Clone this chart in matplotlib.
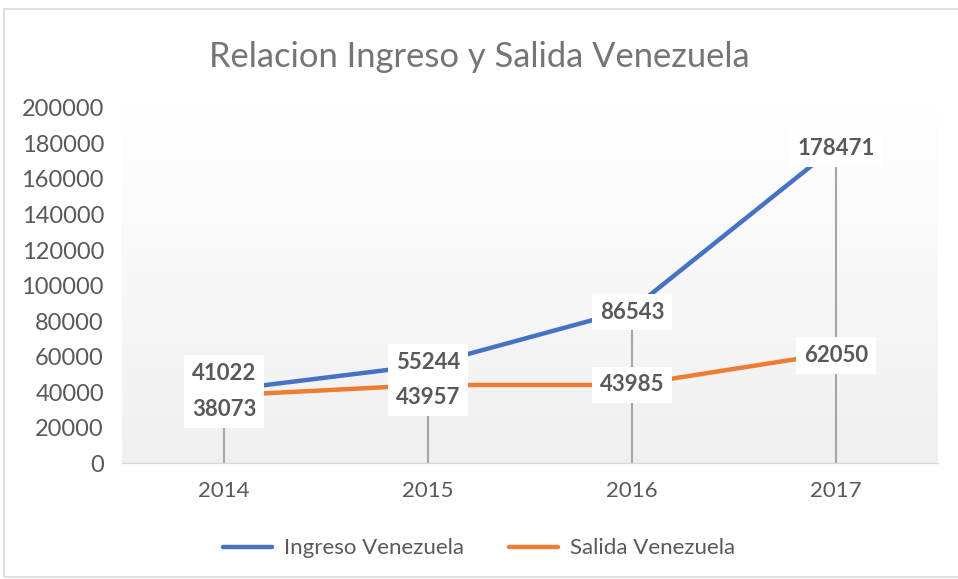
import matplotlib.pyplot as plt
import numpy as np
from matplotlib.patches import Rectangle

# --- DATA ---
years = ['2014', '2015', '2016', '2017']
ingreso = [41022, 55244, 86543, 178471]
salida = [38073, 43957, 43985, 62050]

blue = '#4472C4'
orange = '#ED7D31'
text_gray = '#595959'

plt.rcParams['font.family'] = ['Lato', 'DejaVu Sans']

fig = plt.figure(figsize=(9.58, 5.79), dpi=100)
ax = fig.add_axes([0.1273, 0.2003, 0.8517, 0.6132])

x = np.arange(len(years))

# gradient background (white at top to light gray at bottom)
grad = np.linspace(1, 0, 256).reshape(-1, 1)
ax.imshow(grad, extent=[-0.5, 3.5, 0, 200000], aspect='auto',
          cmap=plt.matplotlib.colors.LinearSegmentedColormap.from_list('g', ['#f0f0f0', '#ffffff']),
          zorder=0, origin='upper')

# drop lines
top = [max(a, b) for a, b in zip(ingreso, salida)]
ax.vlines(x, 0, top, color='#a5a5a5', lw=1.5, zorder=1)

ax.plot(x, ingreso, color=blue, lw=3.2, solid_capstyle='round', label='Ingreso Venezuela', zorder=3)
ax.plot(x, salida, color=orange, lw=3.2, solid_capstyle='round', label='Salida Venezuela', zorder=3)

# data labels
box = dict(boxstyle='square,pad=0.35', fc='white', ec='none')
offs_i = [12, 2, -2, -2]
offs_s = [-10, -9, 0, -2]
for i in range(len(years)):
    ax.annotate(str(ingreso[i]), (x[i], ingreso[i]), xytext=(0, offs_i[i]), textcoords='offset points',
                ha='center', va='center', fontsize=16, fontweight='bold', color=text_gray,
                bbox=box, zorder=4)
    ax.annotate(str(salida[i]), (x[i], salida[i]), xytext=(0, offs_s[i]), textcoords='offset points',
                ha='center', va='center', fontsize=16, fontweight='bold', color=text_gray,
                bbox=box, zorder=5)

ax.set_xlim(-0.5, 3.5)
ax.set_ylim(0, 200000)
ax.set_yticks(np.arange(0, 200001, 20000))
ax.set_xticks(x)
ax.set_xticklabels(years)
ax.tick_params(axis='both', length=0, labelcolor=text_gray)
ax.tick_params(axis='y', labelsize=17, pad=13)
ax.tick_params(axis='x', labelsize=16, pad=13)
for s in ['top', 'right', 'left']:
    ax.spines[s].set_visible(False)
ax.spines['bottom'].set_color('#d9d9d9')
ax.spines['bottom'].set_linewidth(1)

fig.text(0.5, 0.902, 'Relacion Ingreso y Salida Venezuela', ha='center', va='center',
         fontsize=24.8, color='#757575')

ax.legend(loc='center', ncol=2, frameon=False,
          fontsize=16, labelcolor=text_gray, handlelength=2.2, columnspacing=2.0, handletextpad=0.55)
leg = ax.get_legend()
leg.set_bbox_to_anchor((0.5, 0.053), transform=fig.transFigure)

# outer chart border
fig.patches.append(Rectangle((4 / 958, 2 / 579), 1.0, 1 - 11 / 579, transform=fig.transFigure,
                             fill=False, ec='#d9d9d9', lw=1.2))

plt.savefig('out.png', dpi=100)
